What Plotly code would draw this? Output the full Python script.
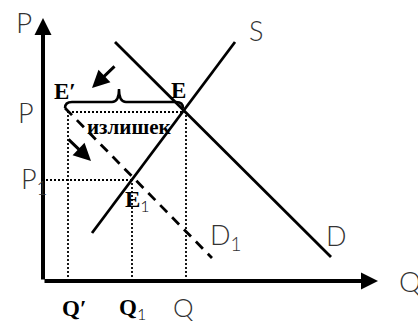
import plotly.graph_objects as go

# ---- data (economic units, origin at axis corner) ----
Q_prime, Q1, Q0 = 25, 89, 143
P0, P1 = 169, 101
S_q = [49, 192]
S_p = [48, 239]
D_q = [72, 288]
D_p = [239, 24]
D1_q = [22, 169]
D1_p = [173, 23]
AXIS_Q_MAX, AXIS_P_MAX = 335, 263

SERIF = "Liberation Serif"
SANS = "Lato"
INK = "#000000"
GREY = "#333333"

fig = go.Figure()

line_w = 2.8
fig.add_trace(go.Scatter(x=S_q, y=S_p, mode="lines", line=dict(color=INK, width=line_w), hoverinfo="skip"))
fig.add_trace(go.Scatter(x=D_q, y=D_p, mode="lines", line=dict(color=INK, width=line_w), hoverinfo="skip"))
fig.add_trace(go.Scatter(x=D1_q, y=D1_p, mode="lines", line=dict(color=INK, width=line_w, dash="10px,7px"), hoverinfo="skip"))

dot = dict(color=INK, width=1.8, dash="2px,2px")
# dotted guide lines
fig.add_trace(go.Scatter(x=[Q_prime, Q0], y=[P0, P0], mode="lines", line=dot, hoverinfo="skip"))
fig.add_trace(go.Scatter(x=[Q_prime, Q_prime], y=[0, P0], mode="lines", line=dot, hoverinfo="skip"))
fig.add_trace(go.Scatter(x=[Q0, Q0], y=[0, P0], mode="lines", line=dot, hoverinfo="skip"))
fig.add_trace(go.Scatter(x=[3, Q1], y=[P1, P1], mode="lines", line=dot, hoverinfo="skip"))
fig.add_trace(go.Scatter(x=[Q1, Q1], y=[0, P1], mode="lines", line=dot, hoverinfo="skip"))

annotations = []
# axes with arrowheads
for (x, y) in [(0, AXIS_P_MAX), (AXIS_Q_MAX, 0)]:
    annotations.append(dict(x=x, y=y, ax=0, ay=0, xref="x", yref="y", axref="x", ayref="y",
                            text="", showarrow=True, arrowhead=2, arrowsize=0.85,
                            arrowwidth=4, arrowcolor=INK))
# small movement arrows
for (x0, y0, x1, y1) in [(73, 216, 49, 193), (24, 143, 48, 120)]:
    annotations.append(dict(x=x1, y=y1, ax=x0, ay=y0, xref="x", yref="y", axref="x", ayref="y",
                            text="", showarrow=True, arrowhead=2, arrowsize=1.15,
                            arrowwidth=3, arrowcolor=INK))

def label(x, y, text, family, size, weight="normal", xanchor="center", color=INK):
    annotations.append(dict(x=x, y=y, xref="x", yref="y", text=text, showarrow=False,
                            xanchor=xanchor, yanchor="middle",
                            font=dict(family=family, size=size, color=color, weight=weight)))

sub = "<sub><span style='font-family:%s;font-weight:300'>1</span></sub>" % SANS

label(-19, 259, "P", SANS, 28, 300, color=GREY)
label(367, 0, "Q", SANS, 28, 300, color=GREY)
label(213, 251, "S", SANS, 27, 300, color=GREY)
label(293, 46, "D", SANS, 27, 300, color=GREY)
label(165, 45, "D" + sub, SANS, 27, 300, xanchor="left", color=GREY)
label(-17, 169, "P", SANS, 27, 300, color=GREY)
label(-24, 101, "P" + sub, SANS, 27, 300, xanchor="left", color=GREY)
label(140, -26, "Q", SANS, 26, 300, color=GREY)

label(22, 190, "E′", SERIF, 23, "bold")
label(135, 191, "E", SERIF, 23, "bold")
label(86, 154, "излишек", SERIF, 21, "bold")
label(80, 80, "E" + sub, SERIF, 23, "bold", xanchor="left")
label(31, -27, "Q′", SERIF, 23, "bold")
label(74, -28, "Q" + sub, SERIF, 23, "bold", xanchor="left")

# curly brace over the surplus (from Q' to Q)
x0, x1 = Q_prime - 3, Q0 - 3
xm = (x0 + x1) / 2 - 5
yb = P0 + 10
y_end = yb - 6
y_tip = yb + 13
r = 7
brace = (f"M {x0},{y_end} Q {x0},{yb} {x0 + r},{yb} L {xm - r},{yb} "
         f"Q {xm},{yb} {xm},{y_tip} Q {xm},{yb} {xm + r},{yb} L {x1 - r},{yb} "
         f"Q {x1},{yb} {x1},{y_end}")

fig.update_layout(
    width=418, height=324,
    margin=dict(l=0, r=0, t=0, b=0),
    paper_bgcolor="white", plot_bgcolor="white",
    showlegend=False,
    xaxis=dict(range=[-43, 375], visible=False, fixedrange=True),
    yaxis=dict(range=[-43, 281], visible=False, fixedrange=True),
    annotations=annotations,
    shapes=[dict(type="path", path=brace, xref="x", yref="y", line=dict(color=INK, width=2.5))],
)

fig.write_html("out.html", config={"displayModeBar": False},
               post_script="document.body.style.margin='0';document.body.style.overflow='hidden';")
